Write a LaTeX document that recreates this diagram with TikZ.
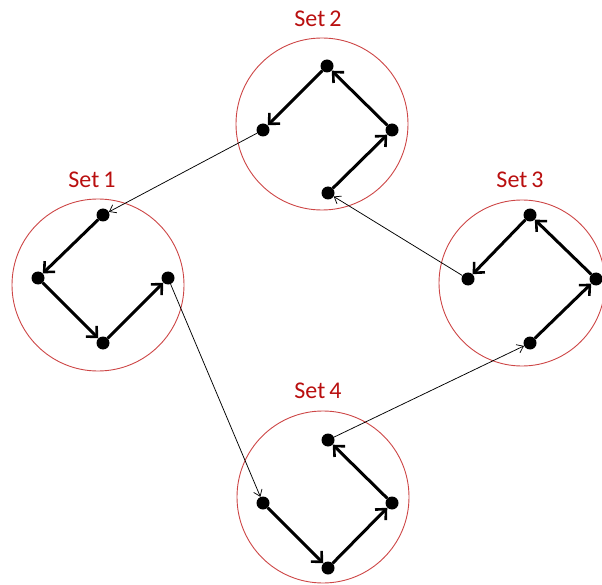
\documentclass[tikz,border=0pt]{standalone}
\usepackage{fontspec}
\setmainfont{Carlito}
\usetikzlibrary{arrows.meta}
\definecolor{ringred}{RGB}{205,70,70}
\definecolor{labelred}{RGB}{185,15,15}
\begin{document}
\begin{tikzpicture}[x=1pt,y=-1pt,
  ring/.style={circle,draw=ringred,line width=0.9pt,minimum size=#1,inner sep=0pt},
  dot/.style={circle,fill=black,minimum size=13pt,inner sep=0pt},
  setlabel/.style={text=labelred,font=\fontsize{24}{27}\selectfont},
  move/.style={line width=3pt,-{Straight Barb[length=8pt,width=15pt,line width=2.6pt]}},
  jump/.style={line width=0.75pt,-{Straight Barb[length=6pt,width=9pt,line width=0.75pt]}}]
\useasboundingbox (0,0) rectangle (602,585);

% rings
\node[ring=172pt] (c1) at (98,285) {};
\node[ring=172pt] (c2) at (322,124) {};
\node[ring=166pt] (c3) at (522,283) {};
\node[ring=172pt] (c4) at (323,497) {};

% labels
\node[setlabel] (l1) at (92,180) {Set\,1};
\node[setlabel] (l2) at (318,19) {Set\,2};
\node[setlabel] (l3) at (520,180) {Set\,3};
\node[setlabel] (l4) at (318,391) {Set\,4};

% Set 1 points
\node[dot] (a1) at (103,215) {};
\node[dot] (a2) at (38,278) {};
\node[dot] (a3) at (103,343) {};
\node[dot] (a4) at (168,278) {};
% Set 2 points
\node[dot] (b1) at (328,193) {};
\node[dot] (b2) at (392,130) {};
\node[dot] (b3) at (327,66) {};
\node[dot] (b4) at (263,130) {};
% Set 3 points
\node[dot] (d1) at (530,343) {};
\node[dot] (d2) at (596,279) {};
\node[dot] (d3) at (530,215) {};
\node[dot] (d4) at (468,279) {};
% Set 4 points
\node[dot] (e1) at (263,503) {};
\node[dot] (e2) at (328,568) {};
\node[dot] (e3) at (392,503) {};
\node[dot] (e4) at (328,440) {};

% paths inside each set
\draw[move] (a1) -- (a2);
\draw[move] (a2) -- (a3);
\draw[move] (a3) -- (a4);
\draw[move] (b1) -- (b2);
\draw[move] (b2) -- (b3);
\draw[move] (b3) -- (b4);
\draw[move] (d1) -- (d2);
\draw[move] (d2) -- (d3);
\draw[move] (d3) -- (d4);
\draw[move] (e1) -- (e2);
\draw[move] (e2) -- (e3);
\draw[move] (e3) -- (e4);

% links between sets
\draw[jump] (b4) -- (a1);
\draw[jump] (a4) -- (e1);
\draw[jump] (e4) -- (d1);
\draw[jump] (d4) -- (b1);
\end{tikzpicture}
\end{document}
